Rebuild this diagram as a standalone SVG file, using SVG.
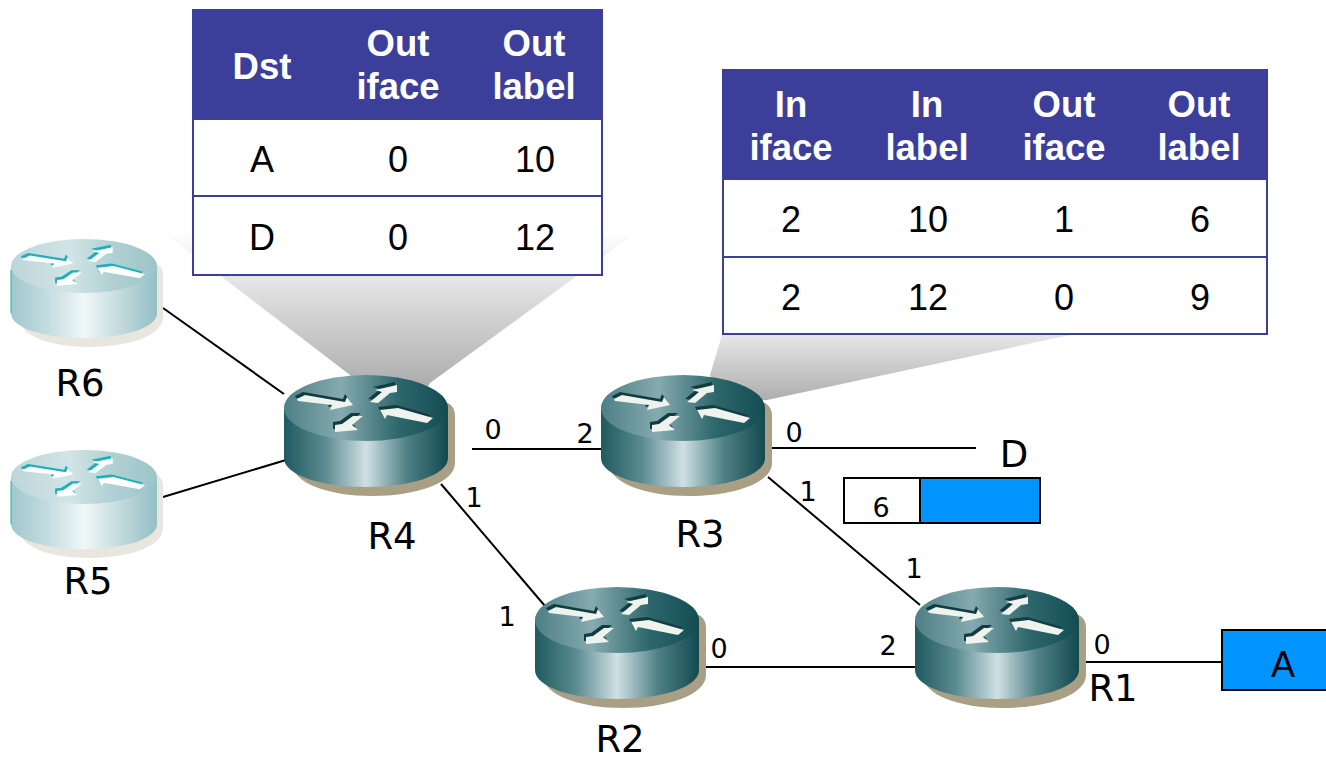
<svg xmlns="http://www.w3.org/2000/svg" width="1326" height="761" viewBox="0 0 1326 761">
<style>
.hd{font:700 36.500px "Liberation Sans",Arial,sans-serif;fill:#fff;text-anchor:middle}
.cell{font:36px "Liberation Sans",Arial,sans-serif;fill:#000;text-anchor:middle}
.name{font:37px "DejaVu Sans",sans-serif;fill:#000;text-anchor:middle}
.port{font:27px "DejaVu Sans",sans-serif;fill:#000;text-anchor:middle}
.wire{stroke:#000;stroke-width:2;fill:none}
.grid{stroke:#3c3f9a;stroke-width:2;fill:none}
</style>
<defs>
<linearGradient id="dSide" x1="0" x2="1" y1="0" y2="0"><stop offset="0" stop-color="#1f5a60"/><stop offset=".25" stop-color="#5a8b90"/><stop offset=".5" stop-color="#cfe0e5"/><stop offset=".75" stop-color="#4f8085"/><stop offset="1" stop-color="#124a50"/></linearGradient>
<linearGradient id="dTop" x1="0" x2="1" y1="0" y2="0"><stop offset="0" stop-color="#4d7f85"/><stop offset=".35" stop-color="#85abaf"/><stop offset=".7" stop-color="#2d666b"/><stop offset="1" stop-color="#134c52"/></linearGradient>
<linearGradient id="lSide" x1="0" x2="1" y1="0" y2="0"><stop offset="0" stop-color="#a0c8cc"/><stop offset=".25" stop-color="#c4dcdf"/><stop offset=".5" stop-color="#f1f7f8"/><stop offset=".75" stop-color="#c2dadd"/><stop offset="1" stop-color="#94bfc4"/></linearGradient>
<linearGradient id="lTop" x1="0" x2="1" y1="0" y2="0"><stop offset="0" stop-color="#bcd6da"/><stop offset=".4" stop-color="#d2e4e6"/><stop offset=".7" stop-color="#b0d0d3"/><stop offset="1" stop-color="#9cc5c9"/></linearGradient>
<linearGradient id="f1" gradientUnits="userSpaceOnUse" x1="0" y1="230" x2="0" y2="385"><stop offset="0" stop-color="#fff"/><stop offset="1" stop-color="#aeaeae"/></linearGradient>
<linearGradient id="f2" gradientUnits="userSpaceOnUse" x1="0" y1="325" x2="0" y2="400"><stop offset="0" stop-color="#efefef"/><stop offset="1" stop-color="#aeaeae"/></linearGradient>
<path id="arrowset" d="M13 24 21 20 61 27 63 22 69 30 46 35 48 30 14 26ZM86 27 98 17 91 15 113 10 113 17 106 18 94 28ZM96 35 114 33 149 43 143 48 103 40 101 44ZM51 57 51 50 58 49 69 41 79 41 68 50 74 55Z"/>
<symbol id="dark" width="175" height="125" viewBox="0 0 175 125" overflow="visible">
<path d="M8 28H164C170 32 171 36 171 42V88C171 108 132 121 88 121S8 108 8 88Z" fill="#a89f85"/>
<path d="M0 33V83C0 100 37 112 82 112S164 100 164 83V33Z" fill="url(#dSide)"/>
<ellipse cx="82" cy="33" rx="82" ry="33" fill="url(#dTop)"/>
<use href="#arrowset" transform="translate(-2 -3)" fill="#123c40"/>
<use href="#arrowset" fill="#eef3ee"/>
</symbol>
<symbol id="light" width="175" height="125" viewBox="0 0 175 125" overflow="visible">
<path d="M8 25H146C151 28 152 32 152 36V78C152 97 117 108 78 108S8 97 8 78Z" fill="#e9e6df"/>
<path d="M0 27V74C0 89 33 99 73 99S146 89 146 74V27Z" fill="url(#lSide)"/>
<ellipse cx="73" cy="27" rx="73" ry="27" fill="url(#lTop)"/>
<path d="M0 31V74" stroke="#1eb0b8" stroke-width="1"/>
<g transform="scale(.9 .82)"><use href="#arrowset" transform="translate(-2 -3)" fill="#1eb0b8"/><use href="#arrowset" fill="#fff"/></g>
</symbol>
</defs>
<rect width="1326" height="761" fill="#fff"/>
<polygon points="167,235 633,235 430,383 420,400 360,400 350,375" fill="url(#f1)"/>
<polygon points="722,335 1070,335 767,400 720,400 710,375" fill="url(#f2)"/>
<g id="connectors">
<path class="wire" d="M163 308 284 394"/>
<path class="wire" d="M163 497 286 460"/>
<path class="wire" d="M472 449H601"/>
<path class="wire" d="M441 484 545 606"/>
<path class="wire" d="M770 448H976"/>
<path class="wire" d="M768 477 920 605"/>
<path class="wire" d="M705 667H915"/>
<path class="wire" d="M1086 662H1222"/>
</g>
<g id="R6"><use href="#light" x="11" y="239"/><text class="name" x="80" y="396">R6</text></g>
<g id="R5"><use href="#light" x="11" y="450"/><text class="name" x="88" y="594">R5</text></g>
<g id="R4"><use href="#dark" x="284" y="375"/><text class="name" x="392" y="549">R4</text></g>
<g id="R3"><use href="#dark" x="601" y="375"/><text class="name" x="700" y="547">R3</text></g>
<g id="R2"><use href="#dark" x="535" y="587"/><text class="name" x="620" y="752">R2</text></g>
<g id="R1"><use href="#dark" x="915" y="587"/><text class="name" x="1113" y="701">R1</text></g>
<g id="ports">
<text class="port" x="493" y="439">0</text><text class="port" x="585" y="443">2</text><text class="port" x="794" y="442">0</text><text class="port" x="808" y="501">1</text>
<text class="port" x="474" y="507">1</text><text class="port" x="507" y="626">1</text><text class="port" x="719" y="658">0</text><text class="port" x="888" y="655">2</text><text class="port" x="914" y="578">1</text><text class="port" x="1102" y="654">0</text>
</g>
<g id="D"><text class="name" x="1014" y="467">D</text></g>
<g id="packet">
<rect x="844" y="478" width="76" height="45" fill="#fff" stroke="#000" stroke-width="2"/>
<rect x="920" y="478" width="120" height="45" fill="#0094ff" stroke="#000" stroke-width="2"/>
<text class="port" x="881" y="517">6</text>
</g>
<g id="A"><rect x="1222" y="630" width="106" height="60" fill="#0094ff" stroke="#000" stroke-width="2"/><text x="1283" y="677" style="font:36px 'Liberation Sans',sans-serif;text-anchor:middle">A</text></g>
<g id="table-R4">
<rect x="193" y="10" width="409" height="109" fill="#3c3f9a"/>
<rect x="193" y="119" width="409" height="156" fill="#fff"/>
<path class="grid" d="M193 10H602V275H193ZM193 119H602M193 196H602"/>
<text class="hd" x="262" y="79">Dst</text>
<text class="hd" x="398" y="56">Out</text><text class="hd" x="398" y="99">iface</text>
<text class="hd" x="534" y="56">Out</text><text class="hd" x="534" y="99">label</text>
<text class="cell" x="262" y="172">A</text><text class="cell" x="398" y="172">0</text><text class="cell" x="535" y="172">10</text>
<text class="cell" x="262" y="250">D</text><text class="cell" x="398" y="250">0</text><text class="cell" x="535" y="250">12</text>
</g>
<g id="table-R3">
<rect x="723" y="70" width="544" height="109" fill="#3c3f9a"/>
<rect x="723" y="179" width="544" height="155" fill="#fff"/>
<path class="grid" d="M723 70H1267V334H723ZM723 179H1267M723 257H1267"/>
<text class="hd" x="791" y="117">In</text><text class="hd" x="791" y="160">iface</text>
<text class="hd" x="927" y="117">In</text><text class="hd" x="927" y="160">label</text>
<text class="hd" x="1064" y="117">Out</text><text class="hd" x="1064" y="160">iface</text>
<text class="hd" x="1199" y="117">Out</text><text class="hd" x="1199" y="160">label</text>
<text class="cell" x="791" y="232">2</text><text class="cell" x="928" y="232">10</text><text class="cell" x="1064" y="232">1</text><text class="cell" x="1200" y="232">6</text>
<text class="cell" x="791" y="310">2</text><text class="cell" x="928" y="310">12</text><text class="cell" x="1064" y="310">0</text><text class="cell" x="1200" y="310">9</text>
</g>
</svg>
